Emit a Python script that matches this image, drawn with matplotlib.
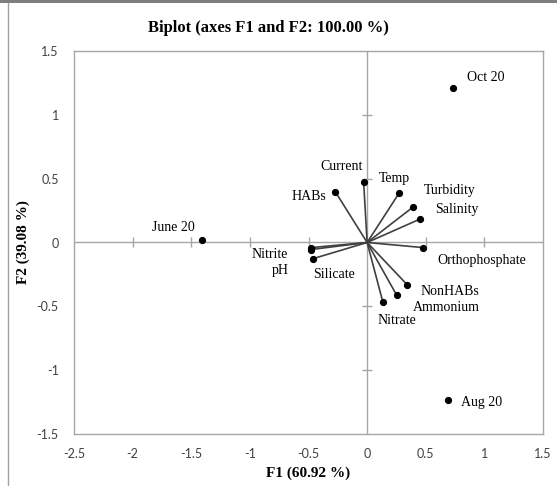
import matplotlib
matplotlib.use("Agg")
import matplotlib.pyplot as plt
from matplotlib.lines import Line2D
from matplotlib.patches import Rectangle

# ---- data ----
obs_names = ["Oct 20", "Aug 20", "June 20"]
obs_f1 = [0.733, 0.690, -1.407]
obs_f2 = [1.210, -1.234, 0.020]

var_names = ["Current", "Temp", "HABs", "Turbidity", "Salinity", "Orthophosphate",
             "Nitrite", "pH", "Silicate", "NonHABs", "Ammonium", "Nitrate"]
var_f1 = [-0.030, 0.275, -0.270, 0.395, 0.452, 0.480,
          -0.478, -0.478, -0.463, 0.344, 0.253, 0.134]
var_f2 = [0.476, 0.390, 0.396, 0.280, 0.184, -0.040,
          -0.040, -0.055, -0.127, -0.333, -0.414, -0.466]

x_ticks = [-2.5, -2, -1.5, -1, -0.5, 0, 0.5, 1, 1.5]
y_ticks = [-1.5, -1, -0.5, 0, 0.5, 1, 1.5]

title = "Biplot (axes F1 and F2: 100.00 %)"
xlabel = "F1 (60.92 %)"
ylabel = "F2 (39.08 %)"

# ---- label placement (pixel offsets, horizontal alignment) ----
obs_offsets = [(14, 11, "left"), (13, -2, "left"), (-7, 12, "right")]
var_offsets = [(-1, 15, "right"), (-21, 14, "left"), (-9, -5, "right"),
               (10, 16, "left"), (15, 10, "left"), (14, -13, "left"),
               (-23, -7, "right"), (-22, -21, "right"), (0, -16, "left"),
               (13, -6, "left"), (16, -12, "left"), (-5, -19, "left")]

serif = ["Liberation Serif", "DejaVu Serif"]
tickfont = ["Lato", "DejaVu Sans"]

fig = plt.figure(figsize=(5.57, 4.86), dpi=100)
ax = fig.add_axes([74 / 557, 52 / 486, 469 / 557, 383 / 486])
ax.set_xlim(x_ticks[0], x_ticks[-1])
ax.set_ylim(y_ticks[0], y_ticks[-1])

frame_col = "#a6a6a6"
for sp in ax.spines.values():
    sp.set_color(frame_col)
    sp.set_linewidth(1.0)

ax.set_xticks(x_ticks)
ax.set_yticks(y_ticks)
ax.set_xticklabels([f"{t:g}" for t in x_ticks])
ax.set_yticklabels([f"{t:g}" for t in y_ticks])
ax.tick_params(length=0, pad=10, labelsize=9, labelcolor="#404040")
ax.tick_params(axis="y", pad=11)
for lab in ax.get_xticklabels() + ax.get_yticklabels():
    lab.set_family(tickfont)

# zero lines with small tick marks
ax.axhline(0, color=frame_col, lw=1.0, zorder=1)
ax.axvline(0, color=frame_col, lw=1.0, zorder=1)
xt_inner = [t for t in x_ticks if t not in (0, x_ticks[0], x_ticks[-1])]
yt_inner = [t for t in y_ticks if t not in (0, y_ticks[0], y_ticks[-1])]
ax.plot(xt_inner, [0] * len(xt_inner), ls="none", marker="|", ms=7, mew=1.0,
        color=frame_col, zorder=1)
ax.plot([0] * len(yt_inner), yt_inner, ls="none", marker="_", ms=7, mew=1.0,
        color=frame_col, zorder=1)

# variable vectors
for x, y in zip(var_f1, var_f2):
    ax.plot([0, x], [0, y], color="#404040", lw=1.2, zorder=2)
ax.plot(var_f1, var_f2, ls="none", marker="o", ms=4.2, color="black", zorder=3)
ax.plot(obs_f1, obs_f2, ls="none", marker="o", ms=4.2, color="black", zorder=3)

for name, x, y, (dx, dy, ha) in zip(var_names, var_f1, var_f2, var_offsets):
    ax.annotate(name, (x, y), xytext=(dx, dy), textcoords="offset pixels",
                ha=ha, va="center", fontsize=10, family=serif, color="black")
for name, x, y, (dx, dy, ha) in zip(obs_names, obs_f1, obs_f2, obs_offsets):
    ax.annotate(name, (x, y), xytext=(dx, dy), textcoords="offset pixels",
                ha=ha, va="center", fontsize=10, family=serif, color="black")

ax.set_xlabel(xlabel, family=serif, fontweight="bold", fontsize=11, labelpad=5)
ax.set_ylabel(ylabel, family=serif, fontweight="bold", fontsize=11, labelpad=5)
fig.text(268 / 557, 1 - 28 / 486, title, ha="center", va="center",
         family=serif, fontweight="bold", fontsize=12)

# outer decoration: top bar and left border line
fig.add_artist(Rectangle((0, 1 - 3 / 486), 1, 3 / 486, transform=fig.transFigure,
                         color="#7f7f7f", lw=0))
fig.add_artist(Line2D([7.5 / 557, 7.5 / 557], [0, 1 - 3 / 486],
                      transform=fig.transFigure, color="#a0a0a0", lw=1.0))

fig.savefig("out.png", dpi=100)
